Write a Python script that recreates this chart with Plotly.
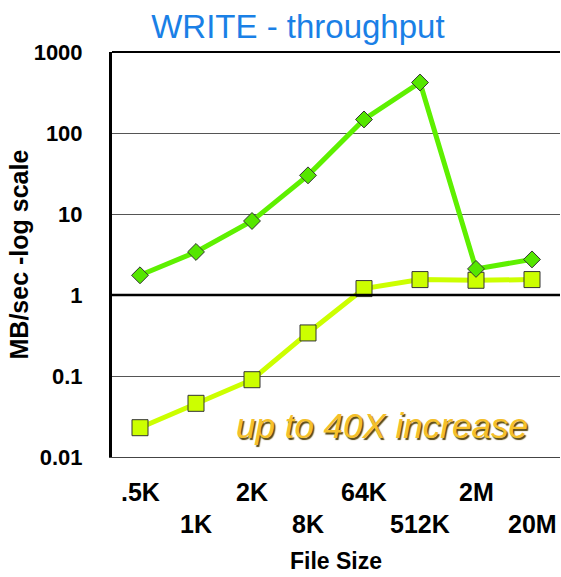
import plotly.graph_objects as go
import math

categories = [".5K", "1K", "2K", "8K", "64K", "512K", "2M", "20M"]
series_new = [1.75, 3.4, 8.2, 30, 147, 420, 2.1, 2.75]      # green diamonds
series_old = [0.023, 0.046, 0.09, 0.34, 1.2, 1.55, 1.52, 1.55]  # yellow squares
y_tickvals = [0.01, 0.1, 1, 10, 100, 1000]
y_ticktext = ["0.01", "0.1", "1", "10", "100", "1000"]

title_text = "WRITE - throughput"
x_title = "File Size"
y_title = "MB/sec -log scale"
note_text = "up to 40X increase"

FONT = "Liberation Sans, Arial, Helvetica, sans-serif"
ymin, ymax = -2, 3

fig = go.Figure()
fig.add_trace(go.Scatter(
    x=list(range(len(categories))), y=series_old, mode="lines+markers",
    line=dict(color="#CCFF00", width=5),
    marker=dict(symbol="square", size=16, color="#CCFF00",
                line=dict(color="#333333", width=1)),
    showlegend=False, cliponaxis=False))
fig.add_trace(go.Scatter(
    x=list(range(len(categories))), y=series_new, mode="lines+markers",
    line=dict(color="#5EF000", width=5),
    marker=dict(symbol="diamond", size=13, color="#55E600",
                line=dict(color="#333333", width=1)),
    showlegend=False, cliponaxis=False))

# reference line at 1 and top border
y1_paper = (math.log10(1) - ymin) / (ymax - ymin)
fig.add_shape(type="line", xref="paper", yref="paper", x0=0, x1=1,
              y0=y1_paper, y1=y1_paper, line=dict(color="black", width=2.5))
fig.add_shape(type="line", xref="paper", yref="paper", x0=0, x1=1,
              y0=1, y1=1, line=dict(color="black", width=2))

annotations = []
for i, c in enumerate(categories):
    row = i % 2
    annotations.append(dict(
        x=i, y=0, xref="x", yref="paper", text=c, showarrow=False,
        xanchor="center", yanchor="middle", yshift=-35 - 32 * row,
        font=dict(family=FONT, size=25, color="black", weight="bold")))
annotations.append(dict(
    x=0.5, y=0, xref="paper", yref="paper", text=x_title, showarrow=False,
    xanchor="center", yanchor="middle", yshift=-104,
    font=dict(family=FONT, size=23, color="black", weight="bold")))
annotations.append(dict(
    x=0, y=0.5, xref="paper", yref="paper", text=y_title, showarrow=False,
    textangle=-90, xanchor="center", yanchor="middle", xshift=-94,
    font=dict(family=FONT, size=25, color="black", weight="bold")))
annotations.append(dict(
    x=0.603, y=0.077, xref="paper", yref="paper", text=note_text, showarrow=False,
    xanchor="center", yanchor="middle",
    font=dict(family=FONT, size=35, color="#F5C02A", style="italic",
              shadow="1.5px 1.5px 1px #5a4a14")))

fig.update_layout(
    width=561, height=577,
    margin=dict(l=112, r=1, t=52, b=120),
    paper_bgcolor="white", plot_bgcolor="white",
    title=dict(text=title_text, x=0.531, xref="container", xanchor="center",
               y=1 - 26 / 577, yref="container", yanchor="middle",
               font=dict(family=FONT, size=33, color="#1A80E6")),
    xaxis=dict(range=[-0.5, len(categories) - 0.5], showgrid=False,
               showticklabels=False, ticks="", zeroline=False,
               showline=True, linecolor="#444444", linewidth=1),
    yaxis=dict(type="log", range=[ymin, ymax], tickvals=y_tickvals,
               ticktext=y_ticktext, showgrid=True, gridcolor="#555555",
               gridwidth=1, ticks="", ticklabelstandoff=22,
               tickfont=dict(family=FONT, size=22, color="black", weight="bold"),
               showline=True, linecolor="black", linewidth=3, zeroline=False),
    annotations=annotations,
)

fig.write_html("out.html", config={"displayModeBar": False},
               post_script="document.body.style.margin='0';document.body.style.padding='0';")
